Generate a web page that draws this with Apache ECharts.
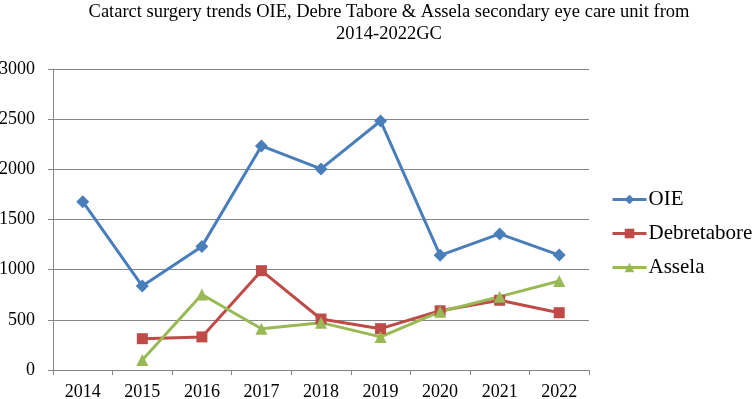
<!DOCTYPE html>
<html><head><meta charset="utf-8">
<script src="https://cdn.jsdelivr.net/npm/echarts@6/dist/echarts.min.js"></script>
<style>html,body{margin:0;padding:0;background:#fff}#c{width:756px;height:399px}</style>
</head><body><div id="c"></div>
<script>
const years = ['2014','2015','2016','2017','2018','2019','2020','2021','2022'];
const oie = [1678, 837, 1232, 2233, 2004, 2482, 1143, 1356, 1145];
const debretabore = [null, 312, 330, 990, 508, 412, 590, 695, 571];
const assela = [null, 100, 752, 411, 472, 330, 581, 731, 887];
const yTicks = [0, 500, 1000, 1500, 2000, 2500, 3000];

const font = 'Liberation Serif, Times New Roman, serif';
const chart = echarts.init(document.getElementById('c'));
chart.setOption({
  animation: false,
  title: {
    text: 'Catarct surgery trends OIE, Debre Tabore & Assela secondary eye care unit from\n2014-2022GC',
    left: 384, top: -4, textAlign: 'center',
    textStyle: {fontFamily: font, fontSize: 18.5, fontWeight: 'normal', color: '#000', lineHeight: 22}
  },
  legend: {
    orient: 'vertical', left: 611, top: 189, itemGap: 13, padding: 0,
    itemWidth: 34, itemHeight: 12,
    lineStyle: {width: 3},
    textStyle: {fontFamily: font, fontSize: 21, color: '#000', padding: [0,0,0,-3]},
    data: ['OIE', 'Debretabore', 'Assela']
  },
  grid: {left: 53, right: 167, top: 69, bottom: 29, containLabel: false, outerBoundsMode: 'none'},
  xAxis: {
    type: 'category', data: years, boundaryGap: true,
    axisLine: {lineStyle: {color: '#868686', width: 1}},
    axisTick: {show: true, length: 5, lineStyle: {color: '#868686'}},
    axisLabel: {fontFamily: font, fontSize: 18, color: '#000', margin: 13}
  },
  yAxis: {
    type: 'value', min: yTicks[0], max: yTicks[yTicks.length-1], interval: 500,
    axisLine: {show: true, lineStyle: {color: '#868686'}},
    axisTick: {show: true, length: 5, lineStyle: {color: '#868686'}},
    splitLine: {lineStyle: {color: '#868686', width: 1}},
    axisLabel: {fontFamily: font, fontSize: 18, color: '#000', margin: 18,
      formatter: v => String(v)}
  },
  series: [
    {name: 'OIE', type: 'line', data: oie, symbol: 'diamond', symbolSize: 13,
     lineStyle: {color: '#4a7ebb', width: 3}, itemStyle: {color: '#4a7ebb'}},
    {name: 'Debretabore', type: 'line', data: debretabore, symbol: 'rect', symbolSize: 11,
     lineStyle: {color: '#be4b48', width: 3}, itemStyle: {color: '#be4b48'}},
    {name: 'Assela', type: 'line', data: assela, symbol: 'triangle', symbolSize: 12,
     lineStyle: {color: '#98b954', width: 3}, itemStyle: {color: '#98b954'}}
  ]
});
</script></body></html>
